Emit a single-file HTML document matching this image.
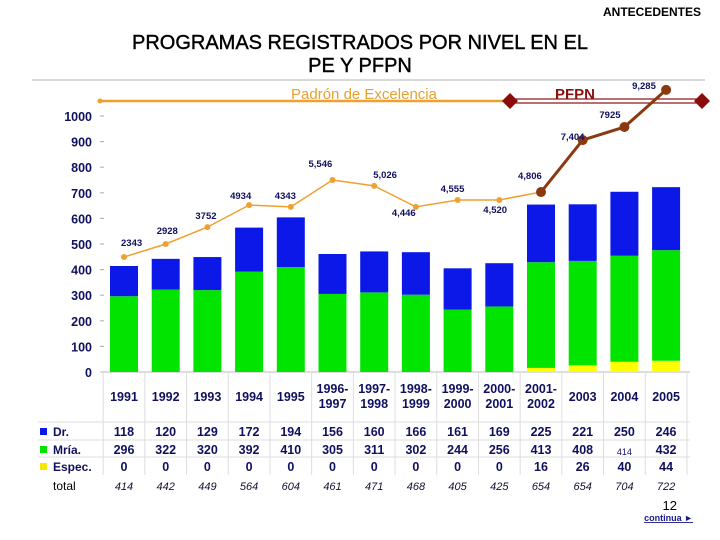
<!DOCTYPE html>
<html><head><meta charset="utf-8">
<style>
html,body{margin:0;padding:0;background:#fff;}
body{width:720px;height:540px;overflow:hidden;position:relative;font-family:"Liberation Sans",sans-serif;}
</style></head>
<body>
<svg id="chart" width="720" height="540" xmlns="http://www.w3.org/2000/svg" style="position:absolute;left:0;top:0">
<text x="701" y="16" text-anchor="end" font-size="12" font-weight="bold" fill="#000">ANTECEDENTES</text>
<text x="360" y="49" text-anchor="middle" font-size="20" fill="#000" stroke="#000" stroke-width="0.4">PROGRAMAS REGISTRADOS POR NIVEL EN EL</text>
<text x="360" y="72" text-anchor="middle" font-size="20" fill="#000" stroke="#000" stroke-width="0.4">PE Y  PFPN</text>
<line x1="32" y1="80" x2="705" y2="80" stroke="#ccc" stroke-width="1.5"/>
<g id="g"></g>
<text x="677" y="510" text-anchor="end" font-size="13" fill="#000">12</text>
<text x="693" y="521" text-anchor="end" font-size="9" font-weight="bold" fill="#1a1a8c" text-decoration="underline">continua ►</text>
</svg>
<script>
const categories=["1991","1992","1993","1994","1995","1996-1997","1997-1998","1998-1999","1999-2000","2000-2001","2001-2002","2003","2004","2005"];
const drValues=[118,120,129,172,194,156,160,166,161,169,225,221,250,246];
const mriaValues=[296,322,320,392,410,305,311,302,244,256,413,408,414,432];
const especValues=[0,0,0,0,0,0,0,0,0,0,16,26,40,44];
const totalValues=[414,442,449,564,604,461,471,468,405,425,654,654,704,722];
const lineValues=[449,500,566,652,645,750,727,645,672,672,703,906,957,1102];
const lineLabels=["2343","2928","3752","4934","4343","5,546","5,026","4,446","4,555","4,520","4,806","7,404","7925","9,285"];
const yTicks=[0,100,200,300,400,500,600,700,800,900,1000];
const labelOffX=[-3,-9,-12,-19,-16,-24,-1,-24,-17,-16,-23,-22,-25,-34];
const labelOffY=[-11,-10,-8,-6,-8,-13,-8,9,-8,13,-13,0,-9,-1];
const NS="http://www.w3.org/2000/svg";
const g=document.getElementById('g');
const x=i=>124+i*41.7;
const y=v=>372-v*0.256;
function mk(t,a,p){const e=document.createElementNS(NS,t);for(const k in a)e.setAttribute(k,a[k]);(p||g).appendChild(e);return e;}
yTicks.forEach(v=>{
 const t=mk('text',{x:92,y:y(v)+5,'text-anchor':'end','font-size':12.5,'font-weight':'bold',fill:'#101060'});t.textContent=v;
 
 
 const l=mk('line',{x1:100,x2:104,y1:y(v),y2:y(v),stroke:'#aaa'});
 
 
});
const base=mk('line',{x1:100,x2:690,y1:372,y2:372,stroke:'#bbb'});


for(let i=0;i<=categories.length;i++){
 const gx=x(i)-20.85;
 const l=mk('line',{x1:gx,x2:gx,y1:372,y2:475,stroke:'#ddd'});
 
 
}
[422,440,457].forEach(yy=>{const l=mk('line',{x1:38,x2:690,y1:yy,y2:yy,stroke:'#ddd'});
 
 });
categories.forEach((c,i)=>{
 const bx=x(i)-14,w=28;
 const e=especValues[i],m=mriaValues[i],d=drValues[i];
 const r1=mk('rect',{x:bx,y:y(e),width:w,height:y(0)-y(e),fill:'#ffff00'});
 
 
 const r2=mk('rect',{x:bx,y:y(e+m),width:w,height:y(e)-y(e+m),fill:'#00e400'});
 
 
 const r3=mk('rect',{x:bx,y:y(e+m+d),width:w,height:y(e+m)-y(e+m+d),fill:'#0b18e8'});
 
 
});
const pl=mk('line',{x1:100,x2:508,y1:101,y2:101,stroke:'#f0a030','stroke-width':2.5});


const pd=mk('circle',{cx:100,cy:101,r:2.5,fill:'#f0a030'});


const pt=mk('text',{x:364,y:99,'text-anchor':'middle','font-size':15,fill:'#e8a030'});pt.textContent='Padrón de Excelencia';


const fl=mk('rect',{x:510,y:99,width:192,height:4,fill:'#fff',stroke:'#8b1010','stroke-width':1.2});


[510,702].forEach(dx=>{const d=mk('polygon',{points:`${dx-8},101 ${dx},93 ${dx+8},101 ${dx},109`,fill:'#8b0a0a'});
 
 });
const ft=mk('text',{x:575,y:99,'text-anchor':'middle','font-size':15,'font-weight':'bold',fill:'#8b1010'});ft.textContent='PFPN';


const pe=lineValues.slice(0,11).map((v,i)=>x(i)+','+y(v)).join(' ');
const l1=mk('polyline',{points:pe,fill:'none',stroke:'#f0a030','stroke-width':1.5});


const pf=lineValues.slice(10).map((v,i)=>x(i+10)+','+y(v)).join(' ');
const l2=mk('polyline',{points:pf,fill:'none',stroke:'#8b3a10','stroke-width':3});


lineValues.forEach((v,i)=>{
 const big=i>=10;
 const c=mk('circle',{cx:x(i),cy:y(v),r:big?5:3,fill:big?'#8b3a10':'#f0a030'});
 
 
 const t=mk('text',{x:x(i)+labelOffX[i],y:y(v)+labelOffY[i],'font-size':9.5,'font-weight':'bold',fill:'#101060'});t.textContent=lineLabels[i];
 
 
});
categories.forEach((c,i)=>{
 const parts=c.split('-');
 if(parts.length==1){const t=mk('text',{x:x(i),y:401,'text-anchor':'middle','font-size':12.5,'font-weight':'bold',fill:'#101060'});t.textContent=c;
  
  }
 else{const t=mk('text',{x:x(i),y:393,'text-anchor':'middle','font-size':12.5,'font-weight':'bold',fill:'#101060'});t.textContent=parts[0]+'-';
  
  
  const t2=mk('text',{x:x(i),y:408,'text-anchor':'middle','font-size':12.5,'font-weight':'bold',fill:'#101060'});t2.textContent=parts[1];
  
  }
 [[drValues,436,12.5],[mriaValues,454,12.5],[especValues,471,12.5]].forEach(([arr,yy,fs],r)=>{
  const small=(r==1&&i==12);
  const t=mk('text',{x:x(i),y:small?yy+1:yy,'text-anchor':'middle','font-size':small?9:fs,'font-weight':small?'normal':'bold',fill:'#101060'});t.textContent=arr[i];
  
  
 });
 const tt=mk('text',{x:x(i),y:490,'text-anchor':'middle','font-size':11,'font-style':'italic',fill:'#101030'});tt.textContent=totalValues[i];
 
 
});
[['Dr.','#0b18e8',436],['Mría.','#00e400',454],['Espec.','#f5e800',471]].forEach(([n,col,yy])=>{
 const s=mk('rect',{x:40,y:yy-8,width:7,height:7,fill:col});
 
 
 const t=mk('text',{x:53,y:yy,'font-size':12,'font-weight':'bold',fill:'#101060'});t.textContent=n;
 
 
});
const tl=mk('text',{x:53,y:490,'font-size':12,fill:'#000'});tl.textContent='total';


</script>
</body></html>
